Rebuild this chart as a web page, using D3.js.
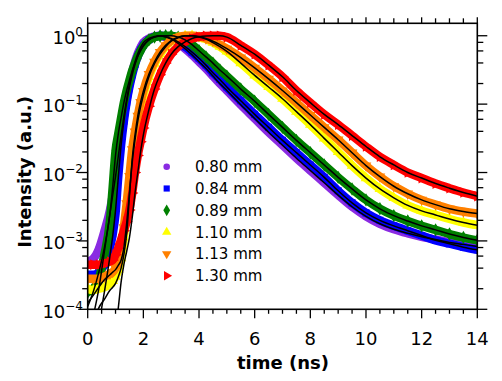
<!DOCTYPE html>
<html><head><meta charset="utf-8">
<script src="https://cdn.jsdelivr.net/npm/d3@7"></script>
<style>body{margin:0;background:#fff}svg{display:block}</style>
</head><body>
<svg id="c" width="502" height="381"></svg>
<script>
// ---- data ----
const times = [0,0.2,0.4,0.6,0.8,0.9,1.0,1.1,1.2,1.3,1.4,1.5,1.6,1.7,1.8,1.9,2.0,2.2,2.4,2.6,2.8,3.0,3.25,3.5,3.75,4.0,4.25,4.5,4.75,5.0,5.5,6.0,6.5,7.0,7.5,8.0,8.5,9.0,9.5,10,10.5,11,11.5,12,12.5,13,13.5,14];

const labels = ["0.80 mm","0.84 mm","0.89 mm","1.10 mm","1.13 mm","1.30 mm"];
const colors = ["#8a2be2","#0000ff","#008000","#ffff00","#ff8000","#ff0000"];

const d080 = [5.0e-4,5.5e-4,7.6e-4,1.38e-3,2.82e-3,4.7e-3,8.7e-3,0.0174,0.0347,0.066,0.117,0.195,0.295,0.417,0.55,0.676,0.794,0.912,0.977,1.0,0.955,0.891,0.776,0.646,0.525,0.417,0.331,0.257,0.1995,0.158,0.0977,0.0617,0.0389,0.0251,0.0162,0.0107,7.08e-3,4.68e-3,3.16e-3,2.29e-3,1.78e-3,1.48e-3,1.29e-3,1.15e-3,1.05e-3,9.5e-4,8.9e-4,8.3e-4];
const d084 = [3.2e-4,3.2e-4,3.5e-4,4.5e-4,7.9e-4,1.26e-3,2.5e-3,8.9e-3,0.0251,0.0562,0.107,0.178,0.269,0.380,0.501,0.617,0.724,0.871,0.955,1.0,0.977,0.912,0.813,0.692,0.575,0.468,0.372,0.288,0.229,0.178,0.112,0.0708,0.0457,0.0295,0.0195,0.0129,8.5e-3,5.4e-3,3.6e-3,2.57e-3,2.0e-3,1.66e-3,1.41e-3,1.2e-3,1.02e-3,9.1e-4,8.1e-4,7.4e-4];
const d089 = [1.78e-4,2.0e-4,2.8e-4,6.3e-4,2.0e-3,6.3e-3,0.0209,0.0372,0.0631,0.105,0.158,0.224,0.309,0.398,0.501,0.603,0.708,0.871,0.955,0.99,1.0,1.0,0.955,0.871,0.741,0.603,0.490,0.398,0.316,0.257,0.166,0.110,0.0708,0.0457,0.0295,0.0195,0.0129,8.5e-3,5.75e-3,3.98e-3,2.95e-3,2.34e-3,1.95e-3,1.66e-3,1.45e-3,1.26e-3,1.12e-3,1.02e-3];
const d110 = [2.0e-4,1.9e-4,2.0e-4,2.1e-4,2.4e-4,2.6e-4,3.0e-4,3.8e-4,5.6e-4,1.12e-3,2.5e-3,6.3e-3,0.0158,0.0316,0.0562,0.0912,0.135,0.251,0.389,0.537,0.692,0.832,0.933,0.99,1.0,0.955,0.891,0.794,0.692,0.589,0.398,0.263,0.178,0.120,0.0776,0.0501,0.0316,0.01995,0.0126,8.3e-3,5.75e-3,4.27e-3,3.31e-3,2.75e-3,2.4e-3,2.09e-3,1.86e-3,1.7e-3];
const d113 = [2.8e-4,2.8e-4,2.8e-4,3.0e-4,3.3e-4,3.5e-4,4.0e-4,5.0e-4,7.9e-4,1.58e-3,3.55e-3,8.9e-3,0.0219,0.0398,0.0676,0.107,0.155,0.275,0.417,0.575,0.724,0.851,0.955,1.0,1.0,0.977,0.912,0.832,0.741,0.646,0.479,0.339,0.234,0.158,0.105,0.0692,0.0457,0.0302,0.0195,0.0126,8.7e-3,6.3e-3,4.9e-3,3.98e-3,3.39e-3,2.95e-3,2.69e-3,2.51e-3];
const d130 = [4.5e-4,4.5e-4,4.5e-4,4.7e-4,5.0e-4,5.25e-4,6.3e-4,7.9e-4,1.05e-3,1.41e-3,1.91e-3,2.82e-3,5.0e-3,0.01,0.0178,0.0282,0.0447,0.0933,0.166,0.269,0.398,0.537,0.692,0.813,0.912,0.966,0.993,1.0,1.0,0.955,0.724,0.537,0.372,0.251,0.158,0.105,0.0708,0.0501,0.0347,0.024,0.017,0.0129,0.01,8.3e-3,6.9e-3,5.9e-3,5.1e-3,4.5e-3];

const f080 = [null,8e-5,2.0e-4,7.0e-4,2.5e-3,4.7e-3,8.7e-3,0.0174,0.0347,0.066,0.117,0.195,0.295,0.417,0.55,0.676,0.794,0.912,0.977,1.0,0.955,0.891,0.776,0.646,0.525,0.417,0.331,0.257,0.1995,0.158,0.0977,0.0617,0.0389,0.0251,0.0162,0.0107,7.08e-3,4.68e-3,3.16e-3,2.29e-3,1.78e-3,1.48e-3,1.29e-3,1.15e-3,1.05e-3,9.5e-4,8.9e-4,8.3e-4];
const f084 = [null,null,6e-5,1.8e-4,6e-4,1.2e-3,2.8e-3,8.5e-3,0.025,0.0562,0.107,0.178,0.269,0.380,0.501,0.617,0.724,0.871,0.955,1.0,0.977,0.912,0.813,0.692,0.575,0.468,0.372,0.288,0.229,0.178,0.112,0.0708,0.0457,0.0295,0.0195,0.0129,8.5e-3,5.4e-3,3.6e-3,2.57e-3,2.0e-3,1.66e-3,1.41e-3,1.2e-3,1.02e-3,9.1e-4,8.1e-4,7.4e-4];
const f089 = [1.1e-4,1.8e-4,3.5e-4,8e-4,2.5e-3,6.3e-3,0.0178,0.037,0.0631,0.105,0.158,0.224,0.309,0.398,0.501,0.603,0.708,0.871,0.955,0.99,1.0,1.0,0.955,0.871,0.741,0.603,0.490,0.398,0.316,0.257,0.166,0.110,0.0708,0.0457,0.0295,0.0195,0.0129,8.5e-3,5.75e-3,3.98e-3,2.95e-3,2.34e-3,1.95e-3,1.66e-3,1.45e-3,1.26e-3,1.12e-3,1.02e-3];
const f110 = [1.25e-4,1.6e-4,2.1e-4,2.7e-4,3.2e-4,3.5e-4,3.8e-4,4.4e-4,5.2e-4,8e-4,1.8e-3,5.0e-3,0.0141,0.030,0.0562,0.0912,0.135,0.251,0.389,0.537,0.692,0.832,0.933,0.99,1.0,0.955,0.891,0.794,0.692,0.589,0.398,0.263,0.178,0.120,0.0776,0.0501,0.0316,0.01995,0.0126,8.3e-3,5.75e-3,4.27e-3,3.31e-3,2.75e-3,2.4e-3,2.09e-3,1.86e-3,1.7e-3];
const f113 = [null,6e-5,1.05e-4,1.4e-4,1.9e-4,2.1e-4,2.4e-4,3.0e-4,4.0e-4,6.3e-4,1.26e-3,4.5e-3,0.0158,0.0355,0.0676,0.107,0.155,0.275,0.417,0.575,0.724,0.851,0.955,1.0,1.0,0.977,0.912,0.832,0.741,0.646,0.479,0.339,0.234,0.158,0.105,0.0692,0.0457,0.0302,0.0195,0.0126,8.7e-3,6.3e-3,4.9e-3,3.98e-3,3.39e-3,2.95e-3,2.69e-3,2.51e-3];
const f130 = [null,null,null,null,null,null,5e-5,1.05e-4,2.5e-4,4.5e-4,7e-4,1.12e-3,2.2e-3,5e-3,0.01,0.02,0.0355,0.083,0.166,0.269,0.398,0.537,0.692,0.813,0.912,0.966,0.993,1.0,1.0,0.955,0.724,0.537,0.372,0.251,0.158,0.105,0.0708,0.0501,0.0347,0.024,0.017,0.0129,0.01,8.3e-3,6.9e-3,5.9e-3,5.1e-3,4.5e-3];

const xTicks = [0,2,4,6,8,10,12,14];
const yTicks = [1e-4,1e-3,1e-2,1e-1,1];
const yTickExp = ["\u22124","\u22123","\u22122","\u22121","0"];

// ---- chart ----
const svg = d3.select("#c");
const L=87.7, R=477.3, T=23.3, B=309.3;
const x = d3.scaleLinear().domain([0,14]).range([L,R]);
const y = d3.scaleLog().domain([1e-4,1.52]).range([B,T]);
const font = "'DejaVu Sans', Verdana, sans-serif";

const dataSets = [d080,d084,d089,d110,d113,d130];
const fitSets = [f080,f084,f089,f110,f113,f130];
const symTypes = [d3.symbolCircle,d3.symbolSquare,d3.symbolDiamond,d3.symbolTriangle,d3.symbolTriangle,d3.symbolTriangle];
const symRot = [0,0,0,0,180,90];
const symSize = [34,38,40,38,38,38];

svg.append("defs").append("clipPath").attr("id","clip")
  .append("rect").attr("x",L).attr("y",T).attr("width",R-L).attr("height",B-T);

const plot = svg.append("g").attr("clip-path","url(#clip)");
const line = d3.line().defined(d=>d[1]!=null).x(d=>x(d[0])).y(d=>y(d[1])).curve(d3.curveMonotoneX);

dataSets.forEach((vals,k)=>{
  const pts = times.map((t,i)=>[t,vals[i]]);
  plot.append("path").attr("d",line(pts)).attr("fill","none")
    .attr("stroke",colors[k]).attr("stroke-width",8.5).attr("stroke-linejoin","round").attr("stroke-linecap","round");
  plot.selectAll(null).data(pts).enter().append("path")
    .attr("d",d3.symbol().type(symTypes[k]).size(symSize[k]*1.3))
    .attr("transform",d=>`translate(${x(d[0])},${y(d[1])}) rotate(${symRot[k]})`)
    .attr("fill",colors[k]);
});
fitSets.forEach(vals=>{
  const pts = times.map((t,i)=>[t,vals[i]]);
  plot.append("path").attr("d",line(pts)).attr("fill","none")
    .attr("stroke","#000").attr("stroke-width",1.5);
});

// frame
svg.append("rect").attr("x",L).attr("y",T).attr("width",R-L).attr("height",B-T)
  .attr("fill","none").attr("stroke","#000").attr("stroke-width",1.6);

// x ticks
const xMinor = d3.range(0,14.01,0.5).filter(v=>v%2!==0);
const tk = svg.append("g").attr("stroke","#000").attr("stroke-width",1.3);
xTicks.forEach(v=>{
  tk.append("line").attr("x1",x(v)).attr("x2",x(v)).attr("y1",B).attr("y2",B+9);
  tk.append("line").attr("x1",x(v)).attr("x2",x(v)).attr("y1",T).attr("y2",T-6);
});
xMinor.forEach(v=>{
  tk.append("line").attr("x1",x(v)).attr("x2",x(v)).attr("y1",B).attr("y2",B+4.5);
  tk.append("line").attr("x1",x(v)).attr("x2",x(v)).attr("y1",T).attr("y2",T-5);
});
// y ticks
const yMinor = [];
[1e-4,1e-3,1e-2,1e-1,1].forEach(d=>[2,4,6,8].forEach(m=>{ if(d*m<=1.52) yMinor.push(d*m); }));
yTicks.forEach(v=>{
  tk.append("line").attr("x1",L).attr("x2",L-9.5).attr("y1",y(v)).attr("y2",y(v));
  tk.append("line").attr("x1",R).attr("x2",R+10).attr("y1",y(v)).attr("y2",y(v));
});
yMinor.forEach(v=>{
  tk.append("line").attr("x1",L).attr("x2",L-5.5).attr("y1",y(v)).attr("y2",y(v));
  tk.append("line").attr("x1",R).attr("x2",R+6).attr("y1",y(v)).attr("y2",y(v));
});

// tick labels
svg.selectAll(null).data(xTicks).enter().append("text")
  .attr("x",d=>x(d)).attr("y",344.5).attr("text-anchor","middle")
  .attr("font-family",font).attr("font-size",18).text(d=>d);
yTicks.forEach((v,i)=>{
  const t = svg.append("text").attr("x",83).attr("y",y(v)+8.3).attr("text-anchor","end")
    .attr("font-family",font).attr("font-size",18);
  t.append("tspan").text("10");
  t.append("tspan").attr("font-size",12).attr("dy",-8).text(yTickExp[i]);
});

// axis titles
svg.append("text").attr("x",283).attr("y",369).attr("text-anchor","middle")
  .attr("font-family",font).attr("font-weight","bold").attr("font-size",18).text("time (ns)");
svg.append("text").attr("transform","translate(31,172) rotate(-90)").attr("text-anchor","middle")
  .attr("font-family",font).attr("font-weight","bold").attr("font-size",18).text("Intensity (a.u.)");

// legend
const lg = svg.append("g");
labels.forEach((lab,k)=>{
  const yy = 166.7 + k*21.8;
  lg.append("path").attr("d",d3.symbol().type(symTypes[k]).size(symSize[k]))
    .attr("transform",`translate(166.7,${yy}) rotate(${symRot[k]})`).attr("fill",colors[k]);
  lg.append("text").attr("x",195).attr("y",yy+5.5).attr("font-family",font).attr("font-size",15).text(lab);
});
</script>
</body></html>
